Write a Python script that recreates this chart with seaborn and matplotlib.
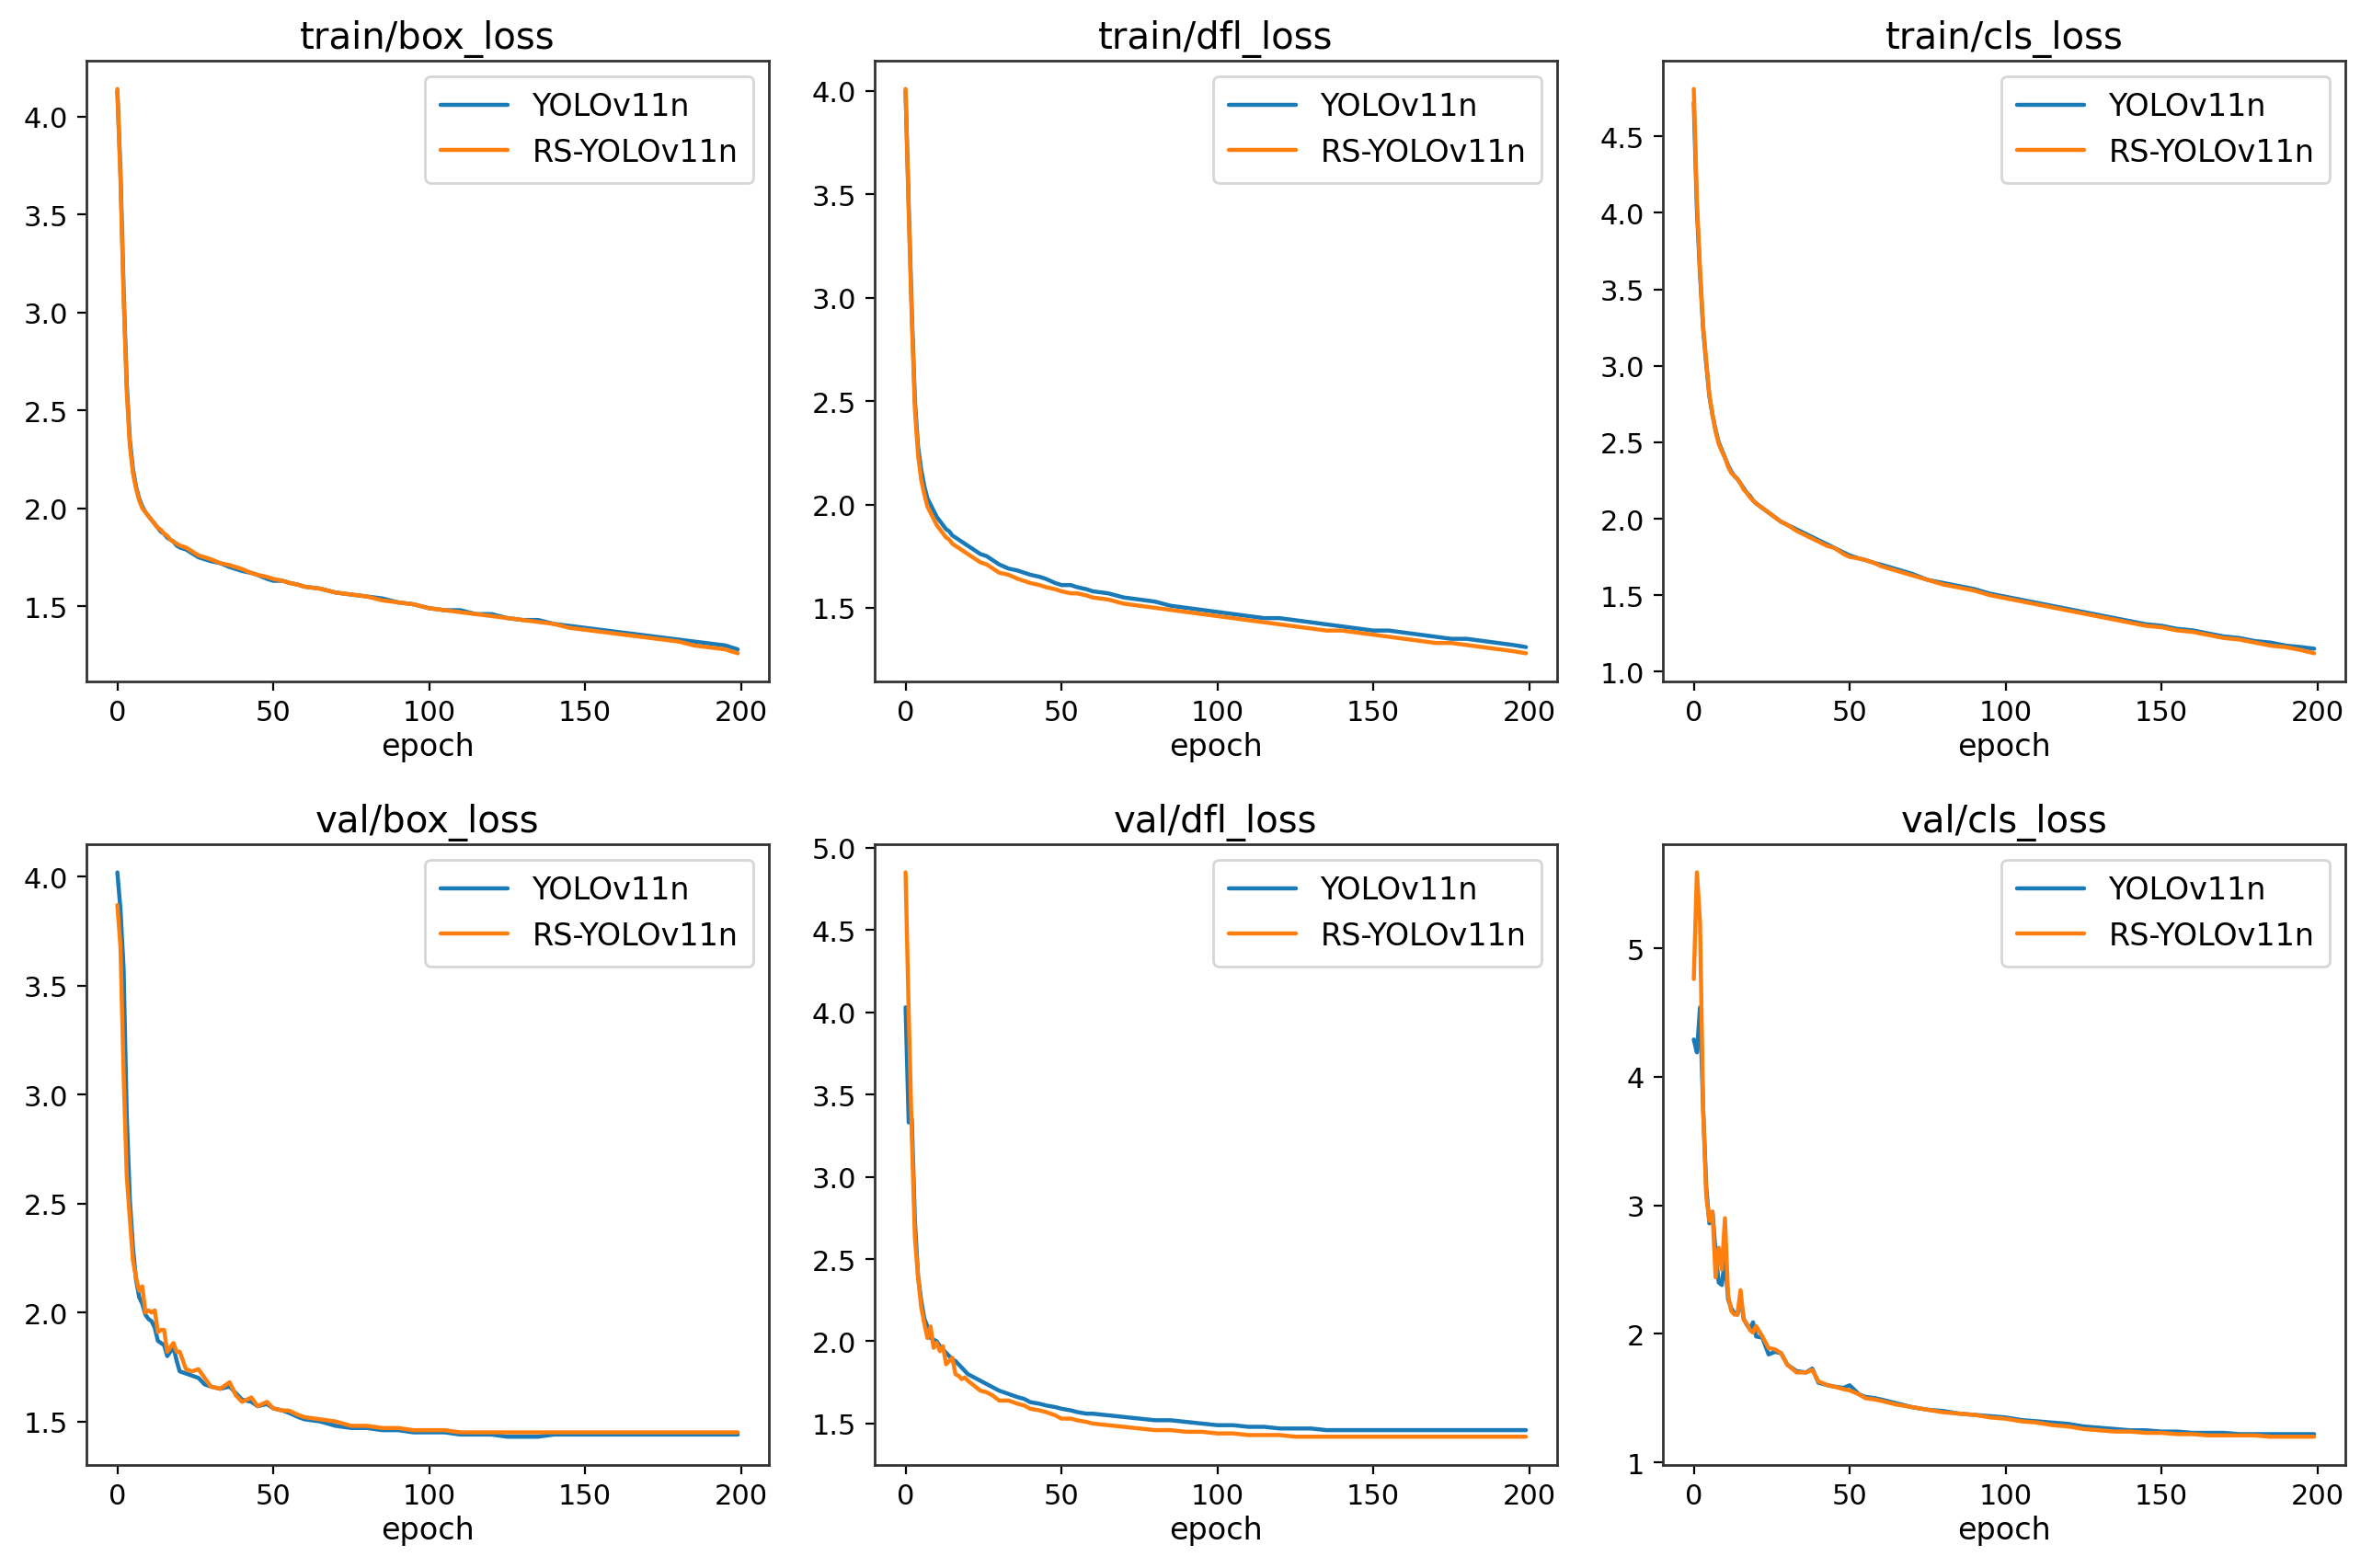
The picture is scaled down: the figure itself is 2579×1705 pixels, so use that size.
"""
YOLOv11n 与 RS-YOLOv11n 训练/验证损失曲线对比
"""

import matplotlib
matplotlib.use('Agg')

import pandas as pd
import matplotlib.pyplot as plt
import seaborn as sns

# 数据
EPOCHS = [0, 1, 2, 3, 4, 5, 6, 7, 8, 9, 10, 11, 12, 13, 14, 15, 16, 17, 18, 19,
          20, 22, 24, 26, 28, 30, 33, 36, 38, 40, 43, 45, 48, 50, 53, 55, 58, 60,
          65, 70, 75, 80, 85, 90, 95, 100, 105, 110, 115, 120, 125, 130, 135, 140,
          145, 150, 155, 160, 165, 170, 175, 180, 185, 190, 195, 199]

MODELS = ["YOLOv11n", "RS-YOLOv11n"]

train_box_base = [4.13, 3.72, 3.12, 2.64, 2.35, 2.20, 2.11, 2.05, 2.01, 1.98, 1.96, 1.94, 1.92, 1.90, 1.88, 1.87, 1.85, 1.84, 1.83, 1.81,
                  1.80, 1.79, 1.77, 1.75, 1.74, 1.73, 1.72, 1.70, 1.69, 1.68, 1.67, 1.66, 1.64, 1.63, 1.63, 1.62, 1.61, 1.60,
                  1.59, 1.57, 1.56, 1.55, 1.54, 1.52, 1.51, 1.49, 1.48, 1.48, 1.46, 1.46, 1.44, 1.43, 1.43, 1.41,
                  1.40, 1.39, 1.38, 1.37, 1.36, 1.35, 1.34, 1.33, 1.32, 1.31, 1.30, 1.28]
train_box_rs = [4.14, 3.68, 3.08, 2.60, 2.32, 2.18, 2.10, 2.04, 2.00, 1.98, 1.96, 1.94, 1.92, 1.90, 1.89, 1.87, 1.86, 1.84, 1.83, 1.82,
                1.81, 1.80, 1.78, 1.76, 1.75, 1.74, 1.72, 1.71, 1.70, 1.69, 1.67, 1.66, 1.65, 1.64, 1.63, 1.62, 1.61, 1.60,
                1.59, 1.57, 1.56, 1.55, 1.53, 1.52, 1.51, 1.49, 1.48, 1.47, 1.46, 1.45, 1.44, 1.43, 1.42, 1.41,
                1.39, 1.38, 1.37, 1.36, 1.35, 1.34, 1.33, 1.32, 1.30, 1.29, 1.28, 1.26]

train_dfl_base = [4.00, 3.45, 2.93, 2.50, 2.28, 2.17, 2.09, 2.03, 2.00, 1.97, 1.94, 1.92, 1.90, 1.88, 1.87, 1.85, 1.84, 1.83, 1.82, 1.81,
                  1.80, 1.78, 1.76, 1.75, 1.73, 1.71, 1.69, 1.68, 1.67, 1.66, 1.65, 1.64, 1.62, 1.61, 1.61, 1.60, 1.59, 1.58,
                  1.57, 1.55, 1.54, 1.53, 1.51, 1.50, 1.49, 1.48, 1.47, 1.46, 1.45, 1.45, 1.44, 1.43, 1.42, 1.41,
                  1.40, 1.39, 1.39, 1.38, 1.37, 1.36, 1.35, 1.35, 1.34, 1.33, 1.32, 1.31]
train_dfl_rs = [4.01, 3.42, 2.90, 2.46, 2.24, 2.12, 2.05, 1.99, 1.96, 1.93, 1.90, 1.88, 1.86, 1.84, 1.83, 1.81, 1.80, 1.79, 1.78, 1.77,
                1.76, 1.74, 1.72, 1.71, 1.69, 1.67, 1.66, 1.64, 1.63, 1.62, 1.61, 1.60, 1.59, 1.58, 1.57, 1.57, 1.56, 1.55,
                1.54, 1.52, 1.51, 1.50, 1.49, 1.48, 1.47, 1.46, 1.45, 1.44, 1.43, 1.42, 1.41, 1.40, 1.39, 1.39,
                1.38, 1.37, 1.36, 1.35, 1.34, 1.33, 1.33, 1.32, 1.31, 1.30, 1.29, 1.28]

train_cls_base = [4.72, 4.02, 3.60, 3.24, 3.01, 2.80, 2.68, 2.58, 2.50, 2.45, 2.40, 2.35, 2.31, 2.28, 2.26, 2.23, 2.20, 2.17, 2.15, 2.12,
                  2.10, 2.07, 2.04, 2.01, 1.98, 1.96, 1.93, 1.90, 1.88, 1.86, 1.83, 1.81, 1.78, 1.76, 1.74, 1.73, 1.71, 1.70,
                  1.67, 1.64, 1.60, 1.58, 1.56, 1.54, 1.51, 1.49, 1.47, 1.45, 1.43, 1.41, 1.39, 1.37, 1.35, 1.33,
                  1.31, 1.30, 1.28, 1.27, 1.25, 1.23, 1.22, 1.20, 1.19, 1.17, 1.16, 1.15]
train_cls_rs = [4.81, 4.08, 3.63, 3.26, 3.03, 2.81, 2.68, 2.57, 2.49, 2.44, 2.40, 2.34, 2.30, 2.28, 2.26, 2.23, 2.19, 2.17, 2.14, 2.12,
                2.10, 2.07, 2.04, 2.01, 1.98, 1.96, 1.92, 1.89, 1.87, 1.85, 1.82, 1.81, 1.77, 1.75, 1.74, 1.73, 1.71, 1.69,
                1.66, 1.63, 1.60, 1.57, 1.55, 1.53, 1.50, 1.48, 1.46, 1.44, 1.42, 1.40, 1.38, 1.36, 1.34, 1.32,
                1.30, 1.29, 1.27, 1.26, 1.24, 1.22, 1.21, 1.19, 1.17, 1.16, 1.14, 1.12]

val_box_base = [4.02, 3.85, 3.58, 2.91, 2.52, 2.30, 2.15, 2.07, 2.04, 1.99, 1.97, 1.96, 1.93, 1.87, 1.86, 1.85, 1.80, 1.82, 1.84, 1.78,
                1.73, 1.72, 1.71, 1.70, 1.67, 1.66, 1.65, 1.66, 1.63, 1.60, 1.59, 1.57, 1.58, 1.56, 1.55, 1.54, 1.52, 1.51,
                1.50, 1.48, 1.47, 1.47, 1.46, 1.46, 1.45, 1.45, 1.45, 1.44, 1.44, 1.44, 1.43, 1.43, 1.43, 1.44,
                1.44, 1.44, 1.44, 1.44, 1.44, 1.44, 1.44, 1.44, 1.44, 1.44, 1.44, 1.44]
val_box_rs = [3.87, 3.68, 3.10, 2.63, 2.43, 2.24, 2.16, 2.10, 2.12, 2.00, 2.01, 2.00, 2.01, 1.91, 1.92, 1.92, 1.82, 1.84, 1.86, 1.82,
              1.82, 1.74, 1.73, 1.74, 1.70, 1.66, 1.65, 1.68, 1.62, 1.59, 1.61, 1.57, 1.59, 1.56, 1.55, 1.55, 1.53, 1.52,
              1.51, 1.50, 1.48, 1.48, 1.47, 1.47, 1.46, 1.46, 1.46, 1.45, 1.45, 1.45, 1.45, 1.45, 1.45, 1.45,
              1.45, 1.45, 1.45, 1.45, 1.45, 1.45, 1.45, 1.45, 1.45, 1.45, 1.45, 1.45]

val_dfl_base = [4.03, 3.33, 3.35, 2.73, 2.40, 2.25, 2.14, 2.09, 2.02, 2.01, 2.00, 1.97, 1.95, 1.93, 1.91, 1.89, 1.88, 1.86, 1.84, 1.82,
                1.80, 1.78, 1.76, 1.74, 1.72, 1.70, 1.68, 1.66, 1.65, 1.63, 1.62, 1.61, 1.60, 1.59, 1.58, 1.57, 1.56, 1.56,
                1.55, 1.54, 1.53, 1.52, 1.52, 1.51, 1.50, 1.49, 1.49, 1.48, 1.48, 1.47, 1.47, 1.47, 1.46, 1.46,
                1.46, 1.46, 1.46, 1.46, 1.46, 1.46, 1.46, 1.46, 1.46, 1.46, 1.46, 1.46]
val_dfl_rs = [4.85, 4.00, 3.25, 2.63, 2.39, 2.21, 2.11, 2.02, 2.09, 1.96, 1.99, 1.94, 1.97, 1.86, 1.88, 1.90, 1.80, 1.79, 1.77, 1.78,
              1.76, 1.73, 1.70, 1.69, 1.67, 1.64, 1.64, 1.62, 1.61, 1.59, 1.58, 1.57, 1.55, 1.53, 1.53, 1.52, 1.51, 1.50,
              1.49, 1.48, 1.47, 1.46, 1.46, 1.45, 1.45, 1.44, 1.44, 1.43, 1.43, 1.43, 1.42, 1.42, 1.42, 1.42,
              1.42, 1.42, 1.42, 1.42, 1.42, 1.42, 1.42, 1.42, 1.42, 1.42, 1.42, 1.42]

val_cls_base = [4.29, 4.19, 4.54, 3.75, 3.14, 2.86, 2.95, 2.63, 2.40, 2.38, 2.60, 2.27, 2.20, 2.16, 2.15, 2.28, 2.12, 2.07, 2.04, 2.09,
                1.98, 1.97, 1.84, 1.86, 1.85, 1.76, 1.71, 1.70, 1.73, 1.62, 1.60, 1.59, 1.58, 1.60, 1.53, 1.51, 1.50, 1.49,
                1.46, 1.43, 1.41, 1.40, 1.38, 1.37, 1.36, 1.35, 1.33, 1.32, 1.31, 1.30, 1.28, 1.27, 1.26, 1.25,
                1.25, 1.24, 1.24, 1.23, 1.23, 1.23, 1.22, 1.22, 1.22, 1.22, 1.22, 1.22]
val_cls_rs = [4.76, 5.59, 5.20, 3.75, 3.07, 2.88, 2.95, 2.44, 2.67, 2.50, 2.90, 2.30, 2.18, 2.15, 2.15, 2.34, 2.11, 2.08, 2.03, 2.01,
              2.06, 1.98, 1.89, 1.88, 1.85, 1.76, 1.70, 1.70, 1.72, 1.63, 1.60, 1.59, 1.57, 1.56, 1.53, 1.50, 1.49, 1.48,
              1.45, 1.43, 1.41, 1.39, 1.38, 1.37, 1.35, 1.34, 1.32, 1.31, 1.29, 1.28, 1.26, 1.25, 1.24, 1.24,
              1.23, 1.23, 1.22, 1.22, 1.21, 1.21, 1.21, 1.21, 1.20, 1.20, 1.20, 1.20]

PANELS = [
    ("train/box_loss", train_box_base, train_box_rs),
    ("train/dfl_loss", train_dfl_base, train_dfl_rs),
    ("train/cls_loss", train_cls_base, train_cls_rs),
    ("val/box_loss", val_box_base, val_box_rs),
    ("val/dfl_loss", val_dfl_base, val_dfl_rs),
    ("val/cls_loss", val_cls_base, val_cls_rs),
]

PALETTE = {"YOLOv11n": "#1a7ab8", "RS-YOLOv11n": "#ff7f0e"}


def build_frame(base, rs):
    """转成长表"""
    rows = []
    for model, values in zip(MODELS, [base, rs]):
        for ep, v in zip(EPOCHS, values):
            rows.append({"epoch": ep, "loss": v, "model": model})
    return pd.DataFrame(rows)


sns.set_style("ticks")
plt.rcParams['font.family'] = ['DejaVu Sans']
plt.rcParams['axes.edgecolor'] = '#333333'
plt.rcParams['axes.linewidth'] = 1.0
plt.rcParams['text.color'] = 'black'
plt.rcParams['axes.labelcolor'] = 'black'
plt.rcParams['xtick.color'] = 'black'
plt.rcParams['ytick.color'] = 'black'

fig, axes = plt.subplots(2, 3, figsize=(12.895, 8.53), dpi=200)
fig.subplots_adjust(left=0.0364, right=0.9887, bottom=0.0657, top=0.9607,
                    wspace=0.155, hspace=0.262)

for ax, (title, base, rs) in zip(axes.flat, PANELS):
    df = build_frame(base, rs)
    sns.lineplot(data=df, x="epoch", y="loss", hue="model", hue_order=MODELS,
                 palette=PALETTE, estimator=None, linewidth=1.6, ax=ax)
    ax.set_title(title, fontsize=14.5, pad=5)
    ax.set_xlabel("epoch", fontsize=12, labelpad=2)
    ax.set_ylabel("")
    ax.set_xticks([0, 50, 100, 150, 200])
    ax.tick_params(labelsize=11)
    handles, labels = ax.get_legend_handles_labels()
    ax.legend(handles, labels, loc='upper right', fontsize=12,
              handlelength=2.2, borderpad=0.5)
    for sp in ax.spines.values():
        sp.set_visible(True)

plt.savefig("out.png", dpi=200)
plt.close()
